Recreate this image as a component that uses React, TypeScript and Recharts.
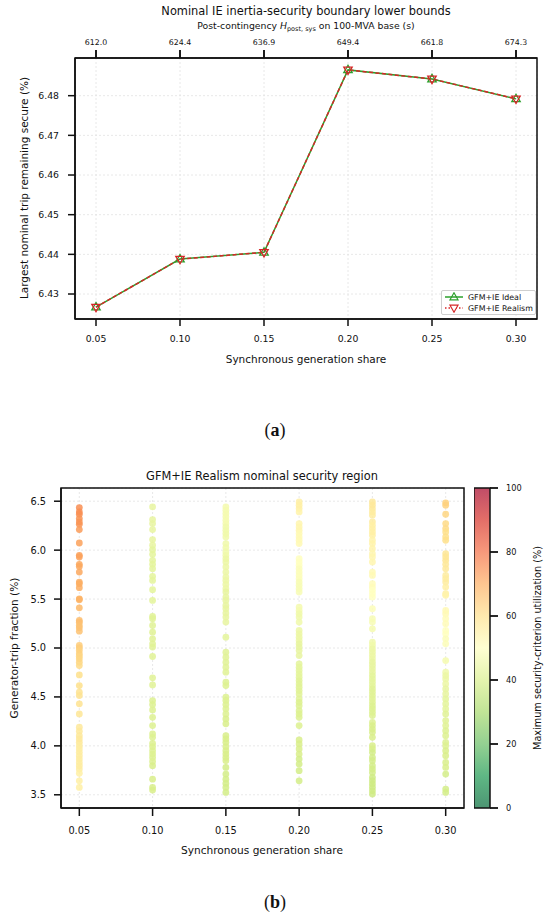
import React from 'react';
import {
  ComposedChart, Line, XAxis, YAxis, CartesianGrid, ReferenceArea,
  ScatterChart, Scatter,
} from 'recharts';

// ---------- Panel (a) data ----------
const shares = [0.05, 0.1, 0.15, 0.2, 0.25, 0.3];
const topAxisLabels = ['612.0', '624.4', '636.9', '649.4', '661.8', '674.3'];
const idealBound = [6.4267, 6.4388, 6.4405, 6.4865, 6.4842, 6.4792];
const realismBound = [6.4267, 6.4388, 6.4405, 6.4865, 6.4842, 6.4792];
const yTicksA = [6.43, 6.44, 6.45, 6.46, 6.47, 6.48];

// ---------- Panel (b) data: [generator-trip %, utilization %] per share ----------
const col05 = [[6.435,75],[6.39,75],[6.367,75],[6.323,74],[6.288,74],[6.264,74],[6.21,73],[6.073,72],[5.947,72],[5.93,72],[5.855,71],[5.834,71],[5.776,71],[5.674,70],[5.657,70],[5.616,70],[5.503,69],[5.493,69],[5.411,68],[5.282,67],[5.264,67],[5.23,66],[5.206,66],[5.172,66],[5.026,64],[5.002,64],[4.974,63],[4.94,63],[4.916,62],[4.889,62],[4.855,62],[4.82,61],[4.725,60],[4.616,60],[4.548,59],[4.514,59],[4.43,59],[4.326,58],[4.19,57],[4.15,57],[4.104,57],[4.07,57],[4.036,57],[4.002,56],[3.968,56],[3.934,56],[3.9,56],[3.865,56],[3.83,56],[3.797,56],[3.763,56],[3.72,55],[3.643,55],[3.575,55]];
const col10 = [[6.442,44],[6.312,44],[6.271,44],[6.21,44],[6.108,44],[6.05,44],[6.005,43],[5.957,43],[5.896,43],[5.855,43],[5.81,43],[5.732,43],[5.691,43],[5.596,43],[5.486,43],[5.322,42],[5.299,42],[5.23,42],[5.162,42],[5.094,42],[5.043,42],[5.009,42],[4.913,42],[4.695,42],[4.623,42],[4.463,41],[4.422,41],[4.367,41],[4.292,41],[4.207,41],[4.121,41],[4.087,41],[4.026,41],[3.992,41],[3.95,41],[3.916,41],[3.882,41],[3.841,41],[3.797,40],[3.66,40],[3.575,40],[3.548,40]];
const col15 = [[6.442,47],[6.408,47],[6.374,47],[6.34,47],[6.305,47],[6.271,47],[6.237,46],[6.203,46],[6.169,46],[6.135,46],[6.067,46],[6.026,46],[5.981,46],[5.947,46],[5.913,45],[5.879,45],[5.828,45],[5.776,45],[5.725,45],[5.691,45],[5.65,45],[5.606,45],[5.572,44],[5.52,44],[5.486,44],[5.435,44],[5.401,44],[5.357,44],[5.316,44],[5.265,44],[5.111,43],[4.957,42],[4.906,42],[4.855,42],[4.804,42],[4.753,42],[4.65,41],[4.616,41],[4.497,41],[4.464,41],[4.422,41],[4.378,41],[4.326,41],[4.275,40],[4.225,40],[4.104,40],[4.07,40],[4.036,40],[3.992,40],[3.95,40],[3.916,40],[3.882,40],[3.848,40],[3.78,39],[3.712,39],[3.66,39],[3.616,39],[3.575,39],[3.524,39]];
const col20 = [[6.493,55],[6.459,55],[6.425,55],[6.391,54],[6.271,53],[6.237,53],[6.203,53],[6.169,52],[6.135,52],[6.101,52],[6.067,52],[5.913,50],[5.879,50],[5.845,50],[5.81,49],[5.776,49],[5.742,49],[5.708,49],[5.674,48],[5.64,48],[5.606,48],[5.572,48],[5.418,47],[5.384,47],[5.35,46],[5.316,46],[5.265,46],[5.179,45],[5.145,45],[5.111,45],[5.077,45],[5.043,44],[5.009,44],[4.974,44],[4.923,44],[4.838,43],[4.804,43],[4.77,43],[4.735,43],[4.701,43],[4.667,42],[4.633,42],[4.599,42],[4.565,42],[4.531,42],[4.48,42],[4.445,41],[4.411,41],[4.36,41],[4.326,41],[4.292,41],[4.207,41],[4.06,40],[4.019,40],[3.968,40],[3.916,40],[3.865,39],[3.814,39],[3.746,39],[3.643,39]];
const col25 = [[6.493,57],[6.459,57],[6.425,57],[6.391,56],[6.357,56],[6.289,56],[6.254,55],[6.22,55],[6.186,55],[6.152,55],[6.101,54],[6.067,54],[6.015,54],[5.964,53],[5.93,53],[5.879,53],[5.776,52],[5.742,52],[5.657,51],[5.623,51],[5.589,50],[5.555,50],[5.52,50],[5.401,49],[5.299,48],[5.265,48],[5.196,47],[5.06,46],[5.026,46],[4.991,45],[4.957,45],[4.923,45],[4.889,45],[4.855,44],[4.821,44],[4.787,44],[4.753,44],[4.718,43],[4.684,43],[4.65,43],[4.616,43],[4.582,42],[4.548,42],[4.514,42],[4.48,42],[4.445,42],[4.411,41],[4.377,41],[4.343,41],[4.309,41],[4.241,41],[4.207,40],[4.172,40],[4.138,40],[4.087,40],[4.002,40],[3.968,40],[3.934,39],[3.882,39],[3.848,39],[3.797,39],[3.763,39],[3.729,39],[3.677,38],[3.643,38],[3.609,38],[3.575,38],[3.541,38],[3.507,38]];
const col30 = [[6.483,63],[6.459,63],[6.367,62],[6.271,61],[6.22,61],[6.186,60],[6.135,60],[6.101,60],[5.964,58],[5.93,58],[5.896,58],[5.855,57],[5.81,57],[5.742,56],[5.708,56],[5.674,56],[5.623,55],[5.555,55],[5.538,54],[5.384,52],[5.35,52],[5.299,51],[5.248,51],[5.179,50],[5.145,50],[5.094,49],[5.043,49],[4.872,47],[4.753,46],[4.718,45],[4.684,45],[4.633,45],[4.582,44],[4.531,44],[4.48,43],[4.428,43],[4.377,43],[4.326,42],[4.258,42],[4.207,42],[4.155,41],[4.104,41],[4.036,41],[4.002,41],[3.95,40],[3.9,40],[3.831,40],[3.78,40],[3.712,39],[3.558,39],[3.524,39]];
const regionColumns = [col05, col10, col15, col20, col25, col30];
const yTicksB = [3.5, 4.0, 4.5, 5.0, 5.5, 6.0, 6.5];
const cbTicks = [0, 20, 40, 60, 80, 100];

// ---------- styling ----------
const FONT = 'DejaVu Sans, sans-serif';
const INK = '#111';
const GREEN = '#2ca02c';
const RED = '#d62728';
const RdYlGn_r = ['#006837', '#1a9850', '#66bd63', '#a6d96a', '#d9ef8b', '#ffffbf', '#fee08b', '#fdae61', '#f46d43', '#d73027', '#a50026'];

function hexToRgb(h: string) {
  return [parseInt(h.slice(1, 3), 16), parseInt(h.slice(3, 5), 16), parseInt(h.slice(5, 7), 16)];
}
function cmap(u: number) {
  const t = Math.max(0, Math.min(100, u)) / 10;
  const i = Math.min(9, Math.floor(t));
  const f = t - i;
  const a = hexToRgb(RdYlGn_r[i]);
  const b = hexToRgb(RdYlGn_r[i + 1]);
  const c = a.map((v, k) => Math.round(v + (b[k] - v) * f));
  return `rgb(${c[0]},${c[1]},${c[2]})`;
}

const dataA = shares.map((s, i) => ({ x: s, ideal: idealBound[i], realism: realismBound[i] }));
const xDom: [number, number] = [0.0375, 0.3125];
const yDomA: [number, number] = [6.4237, 6.4895];
const yDomB: [number, number] = [3.365, 6.635];

const TriUp = (p: any) => {
  const { cx, cy } = p;
  if (cx == null || cy == null) return <g />;
  return <polygon points={`${cx},${cy - 4.6} ${cx - 4.2},${cy + 2.8} ${cx + 4.2},${cy + 2.8}`} fill="none" stroke={GREEN} strokeWidth={1.3} />;
};
const TriDown = (p: any) => {
  const { cx, cy } = p;
  if (cx == null || cy == null) return <g />;
  return <polygon points={`${cx - 4.2},${cy - 2.8} ${cx + 4.2},${cy - 2.8} ${cx},${cy + 4.6}`} fill="none" stroke={RED} strokeWidth={1.3} />;
};

const Dot = (p: any) => {
  const { cx, cy, payload } = p;
  if (cx == null || cy == null) return <g />;
  return <circle cx={cx} cy={cy} r={3.4} fill={cmap(payload.u)} fillOpacity={0.85} />;
};

const T = ({ x, y, size, rot, children, family, color }: any) => (
  <div
    style={{
      position: 'absolute', left: x, top: y,
      transform: `translate(-50%, -50%)${rot ? ` rotate(${rot}deg)` : ''}`,
      fontSize: size, fontFamily: family || FONT, whiteSpace: 'nowrap', lineHeight: 1,
      color: color || INK,
    }}
  >
    {children}
  </div>
);

const tickStyleA = { fontSize: 9.3, fill: INK, fontFamily: FONT };
const tickStyleB = { fontSize: 9.8, fill: INK, fontFamily: FONT };
const AX = { stroke: INK, strokeWidth: 1.5 };
const TL = { stroke: INK, strokeWidth: 1.5 };

export default function App() {
  return (
    <div style={{ position: 'absolute', left: 0, top: 0, width: 550, height: 919, background: '#fff', overflow: 'hidden' }}>
      {/* Panel (a) */}
      <div style={{ position: 'absolute', left: 0, top: 0 }}>
        <ComposedChart width={550} height={380} data={dataA} margin={{ top: 28, right: 13, bottom: 31, left: 15 }}>
          <CartesianGrid xAxisId="bottom" stroke="#e2e2e2" strokeDasharray="2 2" strokeWidth={0.8} />
          <XAxis xAxisId="bottom" dataKey="x" type="number" domain={xDom} ticks={shares} allowDataOverflow
            tickFormatter={(v: number) => v.toFixed(2)} tick={tickStyleA}
            axisLine={AX} tickLine={TL} tickSize={7} tickMargin={9} height={30} />
          <XAxis xAxisId="top" orientation="top" dataKey="x" type="number" domain={xDom} ticks={shares} allowDataOverflow
            tickFormatter={(_v: number, i: number) => topAxisLabels[i]} tick={{ fontSize: 7.8, fill: INK, fontFamily: FONT }}
            axisLine={AX} tickLine={{ stroke: INK, strokeWidth: 1.9 }} tickSize={8} tickMargin={5} height={30} />
          <YAxis dataKey="ideal" type="number" domain={yDomA} ticks={yTicksA} allowDataOverflow
            tickFormatter={(v: number) => v.toFixed(2)} tick={tickStyleA}
            axisLine={AX} tickLine={TL} tickSize={7} tickMargin={9} width={60} />
          <ReferenceArea xAxisId="bottom" x1={xDom[0]} x2={xDom[1]} y1={yDomA[0]} y2={yDomA[1]} fill="none" stroke={INK} strokeWidth={1.5} ifOverflow="visible" />
          <Line xAxisId="bottom" dataKey="ideal" stroke={GREEN} strokeWidth={1.5} dot={<TriUp />} activeDot={false} isAnimationActive={false} />
          <Line xAxisId="bottom" dataKey="realism" stroke={RED} strokeWidth={1.5} strokeDasharray="4 2.5" dot={<TriDown />} activeDot={false} isAnimationActive={false} />
        </ComposedChart>
      </div>
      <T x={306} y={12} size={11.4}>Nominal IE inertia-security boundary lower bounds</T>
      <T x={306} y={26} size={9.3}>
        Post-contingency <i>H</i>
        <span style={{ fontSize: '0.7em', position: 'relative', top: '0.3em' }}>post, sys</span> on 100-MVA base (s)
      </T>
      <T x={24} y={188} size={10.5} rot={-90}>Largest nominal trip remaining secure (%)</T>
      <T x={306} y={359} size={10.5}>Synchronous generation share</T>
      {/* legend */}
      <div style={{
        position: 'absolute', left: 441, top: 290, width: 93, height: 23, border: '1px solid #cfcfcf', borderRadius: 2,
        background: 'rgba(255,255,255,0.85)', fontFamily: FONT, fontSize: 7.9, color: INK,
      }}>
        <div style={{ position: 'absolute', left: 2, top: 1, height: 10, display: 'flex', alignItems: 'center' }}>
          <svg width={20} height={10}>
            <line x1={1} y1={5} x2={19} y2={5} stroke={GREEN} strokeWidth={1.5} />
            <polygon points="10,0.8 6,7.8 14,7.8" fill="none" stroke={GREEN} strokeWidth={1.2} />
          </svg>
          <span style={{ marginLeft: 4 }}>GFM+IE Ideal</span>
        </div>
        <div style={{ position: 'absolute', left: 2, top: 12, height: 10, display: 'flex', alignItems: 'center' }}>
          <svg width={20} height={10}>
            <line x1={1} y1={5} x2={19} y2={5} stroke={RED} strokeWidth={1.5} strokeDasharray="1.5 2" />
            <polygon points="6,2.2 14,2.2 10,9.2" fill="#fff" stroke={RED} strokeWidth={1.2} />
          </svg>
          <span style={{ marginLeft: 4 }}>GFM+IE Realism</span>
        </div>
      </div>
      <T x={275} y={430} size={18} family="'Liberation Serif', serif">(<b>a</b>)</T>

      {/* Panel (b) */}
      <div style={{ position: 'absolute', left: 0, top: 460 }}>
        <ScatterChart width={550} height={390} margin={{ top: 28, right: 86, bottom: 12, left: 16 }}>
          <CartesianGrid stroke="#e2e2e2" strokeDasharray="2 2" strokeWidth={0.8} />
          <XAxis dataKey="x" type="number" domain={xDom} ticks={shares} allowDataOverflow
            tickFormatter={(v: number) => v.toFixed(2)} tick={tickStyleB}
            axisLine={AX} tickLine={TL} tickSize={8} tickMargin={11} height={30} />
          <YAxis dataKey="y" type="number" domain={yDomB} ticks={yTicksB} allowDataOverflow
            tickFormatter={(v: number) => v.toFixed(1)} tick={tickStyleB}
            axisLine={AX} tickLine={TL} tickSize={7} tickMargin={8} width={45} />
          <ReferenceArea x1={xDom[0]} x2={xDom[1]} y1={yDomB[0]} y2={yDomB[1]} fill="none" stroke={INK} strokeWidth={1.5} ifOverflow="visible" />
          {regionColumns.map((col, ci) => (
            <Scatter key={ci} data={col.map(([y, u]) => ({ x: shares[ci], y, u }))} shape={<Dot />} isAnimationActive={false} />
          ))}
        </ScatterChart>
      </div>
      {/* colorbar */}
      <div style={{ position: 'absolute', left: 474, top: 460 }}>
        <ComposedChart width={62} height={390} data={[{ x: 0, v: 0 }, { x: 1, v: 100 }]} margin={{ top: 28, right: 0, bottom: 42, left: 0 }}>
          <defs>
            <linearGradient id="cbgrad" x1="0" y1="1" x2="0" y2="0">
              {RdYlGn_r.map((c, i) => (
                <stop key={i} offset={`${i * 10}%`} stopColor={c} stopOpacity={0.7} />
              ))}
            </linearGradient>
          </defs>
          <XAxis dataKey="x" type="number" domain={[0, 1]} hide />
          <YAxis orientation="right" dataKey="v" type="number" domain={[0, 100]} ticks={cbTicks}
            tick={{ fontSize: 8.2, fill: INK, fontFamily: FONT }}
            axisLine={false} tickLine={{ stroke: INK, strokeWidth: 1.8 }} tickSize={8} tickMargin={8} width={46} />
          <ReferenceArea x1={0} x2={1} y1={0} y2={100} fill="url(#cbgrad)" fillOpacity={1} stroke={INK} strokeWidth={1.5} ifOverflow="visible" />
          <Line dataKey="v" stroke="none" dot={false} activeDot={false} isAnimationActive={false} />
        </ComposedChart>
      </div>
      <T x={262} y={477} size={11.4}>GFM+IE Realism nominal security region</T>
      <T x={14} y={648} size={10.6} rot={-90}>Generator-trip fraction (%)</T>
      <T x={262} y={850} size={10.6}>Synchronous generation share</T>
      <T x={538} y={648} size={9.7} rot={-90}>Maximum security-criterion utilization (%)</T>
      <T x={275} y={902} size={18} family="'Liberation Serif', serif">(<b>b</b>)</T>
    </div>
  );
}
